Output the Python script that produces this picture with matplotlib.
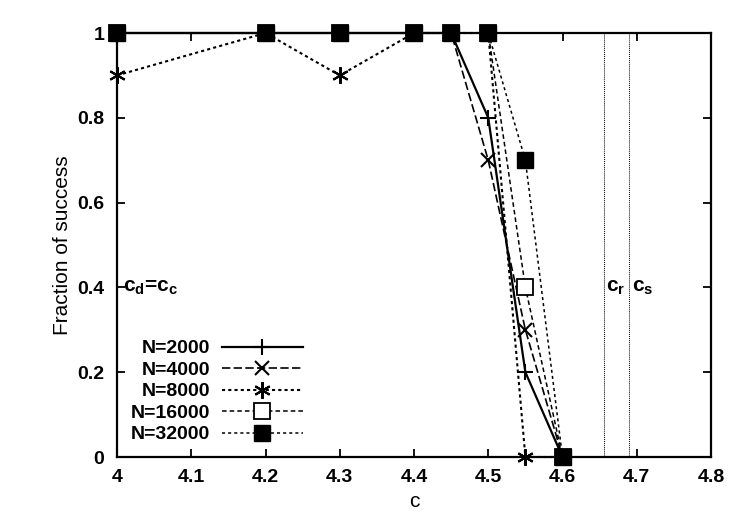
import matplotlib
matplotlib.use("Agg")
import matplotlib.pyplot as plt

plt.rcParams['font.family'] = ['Liberation Sans', 'DejaVu Sans']
plt.rcParams['font.weight'] = 'bold'

c = [4.0, 4.2, 4.3, 4.4, 4.45, 4.5, 4.55, 4.6]
n2000 = [1, 1, 1, 1, 1, 0.8, 0.2, 0]
n4000 = [1, 1, 1, 1, 1, 0.7, 0.3, 0]
n8000 = [0.9, 1, 0.9, 1, 1, 1, 0, 0]
n16000 = [1, 1, 1, 1, 1, 1, 0.4, 0]
n32000 = [1, 1, 1, 1, 1, 1, 0.7, 0]
c_r = 4.656
c_s = 4.690

fig = plt.figure(figsize=(7.5, 5.25), dpi=100)
ax = fig.add_axes([117/750, 1-457/525, (711-117)/750, (457-33)/525])

kw = dict(clip_on=False, zorder=3)
ax.plot(c, n2000, 'k-', marker='+', ms=12, mew=1.5, lw=1.6, label='N=2000', **kw)
ax.plot(c, n4000, 'k', ls=(0, (5, 2)), marker='x', ms=10, mew=1.5, lw=1.2, label='N=4000', **kw)
ax.plot(c, n8000, 'k', ls=(0, (1.5, 1.5)), marker=(6, 2, 0), ms=12, mew=1.5, lw=1.5, label='N=8000', **kw)
ax.plot(c, n16000, 'k', ls=(0, (3, 2)), marker='s', mfc='white', ms=11, mew=1.3, lw=1.1, label='N=16000', **kw)
ax.plot(c, n32000, 'k', ls=(0, (2, 2)), marker='s', ms=11, lw=1.1, label='N=32000', **kw)

ax.axvline(c_r, color='k', ls=(0, (1, 1)), lw=0.7)
ax.axvline(c_s, color='k', ls=(0, (1, 1)), lw=0.7)

ax.text(4.008, 0.4, r'c$_\mathregular{d}$=c$_\mathregular{c}$', fontsize=15, va='center')
ax.text(c_r + 0.002, 0.4, r'c$_\mathregular{r}$', fontsize=15, va='center', ha='left')
ax.text(c_s + 0.003, 0.4, r'c$_\mathregular{s}$', fontsize=15, va='center', ha='left')

ax.set_xlim(4.0, 4.8)
ax.set_ylim(0, 1)
ax.set_xticks([4.0, 4.1, 4.2, 4.3, 4.4, 4.5, 4.6, 4.7, 4.8])
ax.set_xticklabels(['4', '4.1', '4.2', '4.3', '4.4', '4.5', '4.6', '4.7', '4.8'])
ax.set_yticks([0, 0.2, 0.4, 0.6, 0.8, 1])
ax.set_yticklabels(['0', '0.2', '0.4', '0.6', '0.8', '1'])
ax.tick_params(direction='in', top=True, right=True, length=6, width=1.3, labelsize=14, pad=9)
for s in ax.spines.values():
    s.set_linewidth(1.6)
ax.set_xlabel('c', fontsize=15)
ax.set_ylabel('Fraction of success', fontsize=15)

ax.legend(loc='lower left', bbox_to_anchor=(0.0, 0.0), frameon=False, markerfirst=False,
          handlelength=4.2, fontsize=14, labelspacing=0.2, borderaxespad=0.3, handletextpad=0.6)

fig.savefig('out.png', dpi=100)
